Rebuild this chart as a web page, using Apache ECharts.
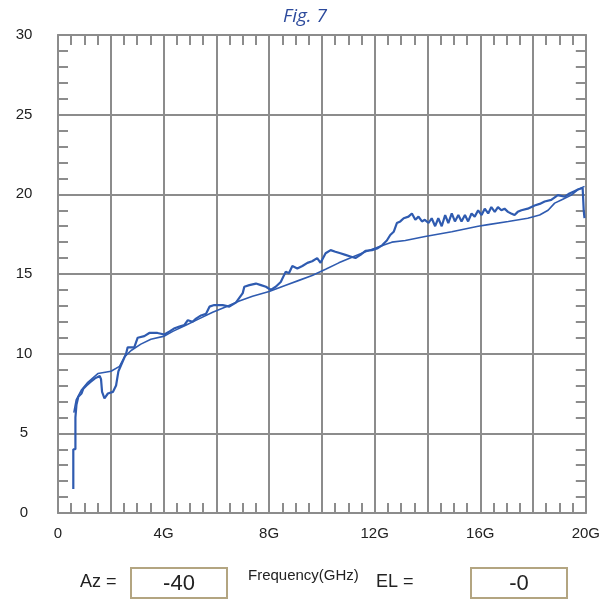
<!DOCTYPE html>
<html>
<head>
<meta charset="utf-8">
<script src="https://cdn.jsdelivr.net/npm/echarts@6/dist/echarts.min.js"></script>
<style>
  html, body { margin: 0; padding: 0; background: #fff; }
  #chart { width: 603px; height: 600px; }
</style>
</head>
<body>
<div id="chart"></div>
<script>
// 측정 곡선 (위쪽, 잡음 있는 곡선) [GHz, 값]
const noisyTrace = [
  [0.58, 1.5], [0.58, 4.0], [0.66, 4.0], [0.66, 6.0], [0.7, 6.8], [0.77, 7.3], [0.89, 7.5],
  [0.96, 7.8], [1.08, 8.0], [1.21, 8.2], [1.4, 8.45], [1.58, 8.6], [1.63, 8.4], [1.67, 7.6],
  [1.76, 7.2], [1.89, 7.5], [2.08, 7.6], [2.2, 8.0], [2.29, 8.9], [2.45, 9.5], [2.58, 10.0],
  [2.64, 10.4], [2.89, 10.4], [3.02, 11.0], [3.27, 11.1], [3.46, 11.3], [3.77, 11.3], [4.03, 11.2],
  [4.23, 11.4], [4.42, 11.6], [4.6, 11.7], [4.79, 11.8], [4.92, 12.1], [5.1, 12.0], [5.23, 12.2],
  [5.42, 12.4], [5.61, 12.5], [5.74, 12.95], [5.92, 13.05], [6.24, 13.05], [6.49, 12.95], [6.74, 13.2],
  [6.87, 13.5], [7.0, 13.8], [7.06, 14.2], [7.25, 14.3], [7.5, 14.4], [7.69, 14.3], [7.88, 14.2],
  [8.06, 14.0], [8.25, 14.2], [8.44, 14.5], [8.63, 15.15], [8.75, 15.05], [8.88, 15.5], [9.07, 15.35],
  [9.26, 15.5], [9.45, 15.7], [9.63, 15.8], [9.82, 16.0], [9.95, 15.7], [10.14, 16.3], [10.33, 16.5],
  [10.51, 16.4], [10.7, 16.3], [10.89, 16.2], [11.08, 16.1], [11.27, 16.0], [11.46, 16.2], [11.65, 16.45],
  [11.9, 16.5], [12.09, 16.6], [12.28, 16.8], [12.46, 17.1], [12.59, 17.45], [12.72, 17.65], [12.84, 18.2],
  [12.97, 18.3], [13.1, 18.5], [13.28, 18.6], [13.41, 18.8], [13.54, 18.4], [13.66, 18.6], [13.79, 18.3],
  [13.9, 18.4], [14.04, 18.2], [14.16, 18.5], [14.29, 18.0], [14.41, 18.5], [14.54, 18.0], [14.67, 18.7],
  [14.79, 18.2], [14.92, 18.8], [15.04, 18.3], [15.17, 18.7], [15.29, 18.3], [15.42, 18.7], [15.54, 18.3],
  [15.67, 18.8], [15.79, 18.6], [15.92, 19.0], [16.05, 18.7], [16.17, 19.1], [16.3, 18.8], [16.42, 19.2],
  [16.55, 18.9], [16.67, 19.2], [16.8, 19.0], [16.92, 19.1], [17.05, 18.9], [17.17, 18.8], [17.3, 18.7],
  [17.42, 18.9], [17.56, 19.0], [17.8, 19.1], [18.06, 19.3], [18.25, 19.4], [18.44, 19.55], [18.69, 19.65],
  [18.94, 19.95], [19.2, 19.85], [19.38, 20.05], [19.57, 20.2], [19.7, 20.3], [19.88, 20.4], [19.92, 19.0],
  [19.95, 18.5]
];

// 기준 곡선 (매끈한 곡선)
const smoothTrace = [
  [0.6, 6.3], [0.69, 7.1], [0.88, 7.7], [1.13, 8.2], [1.51, 8.75], [2.01, 8.9], [2.33, 9.2],
  [2.52, 9.8], [2.77, 10.2], [3.14, 10.6], [3.52, 10.9], [4.03, 11.1], [4.35, 11.4], [4.86, 11.8],
  [5.36, 12.2], [5.86, 12.6], [6.37, 12.95], [6.87, 13.3], [7.37, 13.6], [8.0, 13.9], [8.63, 14.3],
  [9.13, 14.6], [9.63, 14.9], [10.14, 15.3], [10.64, 15.7], [11.14, 16.05], [11.65, 16.4], [12.4, 16.85],
  [12.65, 17.0], [13.16, 17.1], [13.91, 17.35], [14.92, 17.65], [15.92, 18.0], [16.3, 18.1], [17.06, 18.3],
  [17.8, 18.5], [18.25, 18.7], [18.57, 19.0], [18.82, 19.45], [19.07, 19.65], [19.45, 19.95], [19.7, 20.3],
  [19.95, 20.5]
];

// 축 범위
const freqMin = 0, freqMax = 20, freqStep = 2;
const valMin = 0, valMax = 30, valStep = 5;

// 하단 표시값
const azValue = '-40';
const elValue = '-0';
const xAxisName = 'Frequency(GHz)';
const titleText = 'Fig. 7';

const gridGray = '#8c8c8c';
const lineBlue = '#2f5bb0';
const labelFont = 'Liberation Sans';

const chart = echarts.init(document.getElementById('chart'));

const xBase = {
  type: 'value', min: freqMin, max: freqMax, interval: freqStep,
  axisLine: { show: true, onZero: false, lineStyle: { color: gridGray, width: 2 } },
  axisTick: { show: false, inside: true },
  minorTick: { show: true, splitNumber: 4, length: 10, lineStyle: { color: gridGray, width: 2 } },
  splitLine: { show: false }
};
const yBase = {
  type: 'value', min: valMin, max: valMax, interval: valStep,
  axisLine: { show: true, onZero: false, lineStyle: { color: gridGray, width: 2 } },
  axisTick: { show: false, inside: true },
  minorTick: { show: true, splitNumber: 5, length: 10, lineStyle: { color: gridGray, width: 2 } },
  splitLine: { show: false }
};

chart.setOption({
  animation: false,
  backgroundColor: '#fff',
  grid: { left: 58, right: 15, top: 35, bottom: 87 },
  xAxis: [
    Object.assign({}, xBase, {
      position: 'bottom',
      splitLine: { show: true, lineStyle: { color: gridGray, width: 2 } },
      axisLabel: {
        margin: 13, color: '#222', fontFamily: labelFont, fontSize: 15,
        formatter: v => (v % 4 === 0 ? (v === 0 ? '0' : v + 'G') : '')
      }
    }),
    Object.assign({}, xBase, { position: 'top', axisLabel: { show: false } })
  ],
  yAxis: [
    Object.assign({}, yBase, {
      position: 'left',
      splitLine: { show: true, lineStyle: { color: gridGray, width: 2 } },
      axisLabel: { margin: 34, align: 'center', color: '#222', fontFamily: labelFont, fontSize: 15 }
    }),
    Object.assign({}, yBase, { position: 'right', axisLabel: { show: false } })
  ],
  series: [
    {
      type: 'line', data: smoothTrace, showSymbol: false, silent: true,
      lineStyle: { color: lineBlue, width: 1.6 }
    },
    {
      type: 'line', data: noisyTrace, showSymbol: false, silent: true,
      lineStyle: { color: lineBlue, width: 2.2 }
    }
  ],
  graphic: [
    {
      type: 'text', x: 305, y: 17,
      style: { text: titleText, font: 'italic 19px "Open Sans"', fill: '#2c4a9c', align: 'center', verticalAlign: 'middle' }
    },
    {
      type: 'text', left: 80, top: 573,
      style: { text: 'Az =', font: '18px "Liberation Sans"', fill: '#222' }
    },
    {
      type: 'rect', shape: { x: 131, y: 568, width: 96, height: 30 },
      style: { fill: '#fff', stroke: '#b3a581', lineWidth: 2 }
    },
    {
      type: 'text', x: 179, y: 584,
      style: { text: azValue, font: '22px "Liberation Sans"', fill: '#222', align: 'center', verticalAlign: 'middle' }
    },
    {
      type: 'text', left: 248, top: 568,
      style: { text: xAxisName, font: '15px "Liberation Sans"', fill: '#222' }
    },
    {
      type: 'text', left: 376, top: 573,
      style: { text: 'EL =', font: '18px "Liberation Sans"', fill: '#222' }
    },
    {
      type: 'rect', shape: { x: 471, y: 568, width: 96, height: 30 },
      style: { fill: '#fff', stroke: '#b3a581', lineWidth: 2 }
    },
    {
      type: 'text', x: 519, y: 584,
      style: { text: elValue, font: '22px "Liberation Sans"', fill: '#222', align: 'center', verticalAlign: 'middle' }
    }
  ]
});
</script>
</body>
</html>
